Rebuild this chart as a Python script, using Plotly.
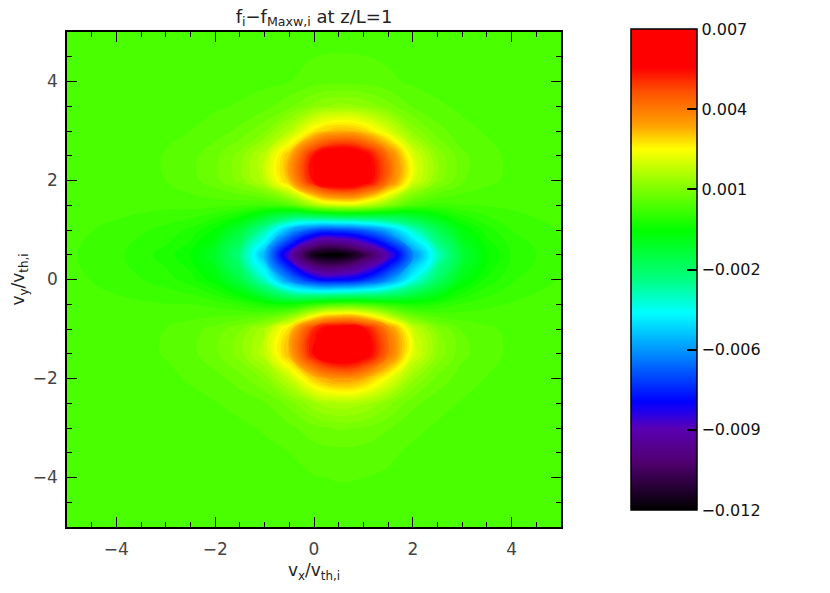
import plotly.graph_objects as go

# grid nodes (v_x, v_y in units of v_th,i)
vx = [-5, -4, -3, -2.5, -2, -1.5, -1, -0.5, 0, 0.5, 1, 1.5, 2, 2.5, 3, 3.5, 4, 5]
vy = [-5, -4, -3.5, -3, -2.5, -2, -1.5, -1, -0.5, 0, 0.5, 1, 1.5, 2, 2.5, 3, 3.5, 4, 5]

df = [
    [0, 0, 0, 0, 0, 0, 0, 0, 0, 0, 0, 0, 0, 0, 0, 0, 0, 0],
    [0, 0, 0, 0, 0.00001, 0.00001, 0.00003, 0.00005, 0.00009, 0.00011, 0.0001, 0.00007, 0.00003, 0.00001, 0.00001, 0, 0, 0],
    [0, 0, 0, 0.00001, 0.00002, 0.00003, 0.00005, 0.0001, 0.00019, 0.00023, 0.00021, 0.00014, 0.00006, 0.00003, 0.00001, 0.00001, 0, 0],
    [0, 0, 0.00001, 0.00002, 0.00004, 0.00006, 0.00012, 0.00024, 0.00044, 0.00053, 0.00048, 0.00032, 0.00015, 0.00007, 0.00003, 0.00002, 0.00001, 0],
    [0, 0.00001, 0.00003, 0.00005, 0.00009, 0.00016, 0.00028, 0.00058, 0.00106, 0.00128, 0.00116, 0.00078, 0.00036, 0.00017, 0.00008, 0.00004, 0.00002, 0],
    [0, 0.00002, 0.00006, 0.00012, 0.00022, 0.00041, 0.00075, 0.00154, 0.0028, 0.00339, 0.00308, 0.00205, 0.00096, 0.00044, 0.00019, 0.00009, 0.00003, 0],
    [0, 0.00003, 0.00011, 0.00024, 0.00045, 0.0008, 0.00146, 0.00301, 0.00552, 0.00667, 0.00607, 0.00403, 0.00187, 0.00086, 0.00036, 0.00017, 0.00006, 0],
    [0, 0.00002, 0.0001, 0.00021, 0.00038, 0.00068, 0.00124, 0.00263, 0.00504, 0.00617, 0.0056, 0.00365, 0.00162, 0.00071, 0.00029, 0.00014, 0.00005, -0.00001],
    [-0.00002, -0.00005, -0.00009, -0.0001, -0.00018, -0.00036, -0.00068, -0.00085, -0.00036, 0.00001, -0.00005, -0.00043, -0.00065, -0.00051, -0.00027, -0.00015, -0.00008, -0.00003],
    [-0.00004, -0.00017, -0.00041, -0.00061, -0.00105, -0.00194, -0.00365, -0.00594, -0.00748, -0.0078, -0.00727, -0.00594, -0.00403, -0.00244, -0.00122, -0.00065, -0.00033, -0.00008],
    [-0.00006, -0.00024, -0.00059, -0.00089, -0.00154, -0.00284, -0.00533, -0.00874, -0.0118, -0.0122, -0.01089, -0.00882, -0.00592, -0.00356, -0.00178, -0.00095, -0.00048, -0.00012],
    [-0.00004, -0.00015, -0.00037, -0.00055, -0.00095, -0.00176, -0.00331, -0.00535, -0.00659, -0.00679, -0.00634, -0.00526, -0.00364, -0.00223, -0.00112, -0.0006, -0.0003, -0.00008],
    [-0.00001, -0.00003, -0.00004, -0.00001, -0.00002, -0.00007, -0.00016, 0.00011, 0.00115, 0.00174, 0.00153, 0.00071, -0.00003, -0.00018, -0.00011, -0.00007, -0.00005, -0.00002],
    [0, 0.00003, 0.0001, 0.00022, 0.00043, 0.00077, 0.0014, 0.00294, 0.00552, 0.00673, 0.00611, 0.00402, 0.00181, 0.00081, 0.00033, 0.00015, 0.00005, 0],
    [0, 0.00003, 0.00011, 0.00023, 0.00044, 0.00079, 0.00144, 0.00297, 0.00543, 0.00656, 0.00596, 0.00397, 0.00184, 0.00085, 0.00035, 0.00016, 0.00006, 0],
    [0, 0.00002, 0.00005, 0.0001, 0.00019, 0.00036, 0.00067, 0.00136, 0.00248, 0.003, 0.00272, 0.00181, 0.00085, 0.00039, 0.00016, 0.00008, 0.00003, 0],
    [0, 0.00001, 0.00002, 0.00004, 0.00007, 0.00012, 0.00022, 0.00045, 0.00081, 0.00098, 0.00089, 0.00059, 0.00028, 0.00013, 0.00006, 0.00003, 0.00001, 0],
    [0, 0, 0, 0.00001, 0.00002, 0.00003, 0.00005, 0.0001, 0.00019, 0.00023, 0.00021, 0.00014, 0.00006, 0.00003, 0.00001, 0.00001, 0, 0],
    [0, 0, 0, 0, 0, 0, 0, 0, 0, 0, 0, 0, 0, 0, 0, 0, 0, 0],
]

cbar_vals = [0.007, 0.003833, 0.000667, -0.0025, -0.005667, -0.008833, -0.012]
cbar_text = ["0.007", "0.004", "0.001", "\u22120.002", "\u22120.006", "\u22120.009", "\u22120.012"]

# IDL-like rainbow table
rainbow = [
    [0.0, "rgb(0,0,0)"],
    [0.10, "rgb(80,0,112)"],
    [0.17, "rgb(90,0,180)"],
    [0.20, "rgb(40,0,230)"],
    [0.225, "rgb(0,0,255)"],
    [0.34, "rgb(0,160,255)"],
    [0.41, "rgb(0,255,255)"],
    [0.48, "rgb(0,255,128)"],
    [0.58, "rgb(0,255,0)"],
    [0.68, "rgb(144,255,0)"],
    [0.75, "rgb(255,255,0)"],
    [0.80, "rgb(255,160,0)"],
    [0.87, "rgb(255,80,0)"],
    [0.92, "rgb(255,0,0)"],
    [1.0, "rgb(255,0,0)"],
]

# page body adds 8px, so layout is set 8px up/left of the target pixels
W, H = 822, 585
L, R, T, B = 59, 553, 24, 519
font = "DejaVu Sans"

fig = go.Figure()

# heatmap underneath carries the continuous colour bar
fig.add_trace(go.Heatmap(
    x=vx, y=vy, z=df,
    zmin=-0.012, zmax=0.007, zsmooth="best",
    colorscale=rainbow,
    colorbar=dict(
        thickness=66, thicknessmode="pixels",
        len=481, lenmode="pixels",
        x=(623 - L) / (R - L), xanchor="left",
        y=(B - 261.5) / (B - T), yanchor="middle",
        xpad=0, ypad=0,
        outlinewidth=1.5, outlinecolor="black",
        tickmode="array", tickvals=cbar_vals, ticktext=cbar_text,
        ticks="inside", ticklen=10, tickwidth=1.5, tickcolor="black",
        tickfont=dict(family=font, size=16, color="#111"),
    ),
))

# smoothed filled contours on top give round blobs
fig.add_trace(go.Contour(
    x=vx, y=vy, z=df,
    zmin=-0.012, zmax=0.007,
    colorscale=rainbow, showscale=False,
    contours=dict(start=-0.0121, end=0.0071, size=0.0002, coloring="fill", showlines=False),
    line=dict(width=0, smoothing=1.3),
))

axis_common = dict(
    range=[-5, 5], dtick=2, tick0=0,
    ticks="inside", ticklen=10, tickwidth=1.3, tickcolor="black",
    minor=dict(ticks="inside", ticklen=5, dtick=0.5, tickwidth=1, tickcolor="black"),
    showline=True, linecolor="black", linewidth=1.5, mirror="allticks",
    showgrid=False, zeroline=False,
    tickfont=dict(family=font, size=17, color="#444"),
)

fig.update_layout(
    width=W, height=H,
    margin=dict(l=L, r=W - R, t=T, b=H - B, autoexpand=False),
    paper_bgcolor="white", plot_bgcolor="white",
    title=dict(
        text="f<sub>i</sub>\u2212f<sub>Maxw,i</sub> at z/L=1",
        x=0.5, xref="paper", xanchor="center",
        y=1, yref="container", yanchor="top",
        pad=dict(t=2),
        font=dict(family=font, size=18, color="#222"),
    ),
    xaxis=dict(axis_common, ticklabelstandoff=6,
               title=dict(text="v<sub>x</sub>/v<sub>th,i</sub>", standoff=6,
                          font=dict(family=font, size=17, color="#222"))),
    yaxis=dict(axis_common, ticklabelstandoff=4,
               title=dict(text="v<sub>y</sub>/v<sub>th,i</sub>", standoff=10,
                          font=dict(family=font, size=17, color="#222"))),
)

fig.write_html("out.html")
